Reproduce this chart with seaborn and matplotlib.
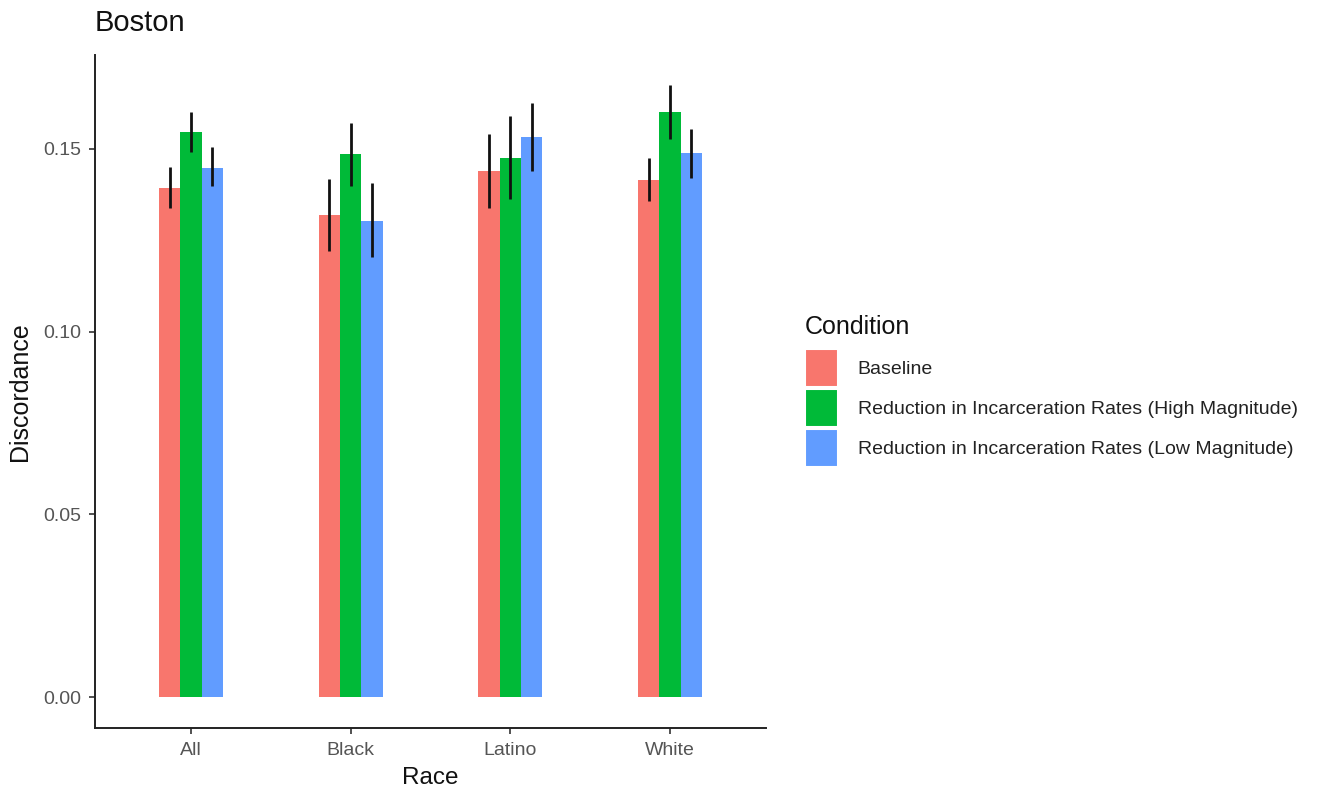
import matplotlib
matplotlib.use("Agg")
import matplotlib.pyplot as plt
import matplotlib.patches as mpatches
import numpy as np
import pandas as pd
import seaborn as sns

# Discordance by race under each condition (Boston)
races = ["All", "Black", "Latino", "White"]
conditions = [
    "Baseline",
    "Reduction in Incarceration Rates (High Magnitude)",
    "Reduction in Incarceration Rates (Low Magnitude)",
]
baseline = [0.1392, 0.1318, 0.1439, 0.1415]
baseline_lo = [0.1338, 0.1220, 0.1338, 0.1358]
baseline_hi = [0.1451, 0.1417, 0.1540, 0.1474]
high_mag = [0.1546, 0.1485, 0.1474, 0.1601]
high_mag_lo = [0.1492, 0.1397, 0.1363, 0.1527]
high_mag_hi = [0.1601, 0.1569, 0.1589, 0.1674]
low_mag = [0.1448, 0.1303, 0.1533, 0.1487]
low_mag_lo = [0.1397, 0.1203, 0.1438, 0.1419]
low_mag_hi = [0.1504, 0.1406, 0.1626, 0.1553]
colors = ["#F8766D", "#00BA38", "#619CFF"]

series = [
    (baseline, baseline_lo, baseline_hi),
    (high_mag, high_mag_lo, high_mag_hi),
    (low_mag, low_mag_lo, low_mag_hi),
]
rows = []
for cond, (vals, lo, hi) in zip(conditions, series):
    for r, v, l, h in zip(races, vals, lo, hi):
        rows.append({"Race": r, "Condition": cond, "Discordance": v, "lo": l, "hi": h})
df = pd.DataFrame(rows)

sns.set_theme(style="ticks")
plt.rcParams["font.family"] = ["Liberation Sans", "DejaVu Sans"]

fig = plt.figure(figsize=(13.38, 7.95), dpi=100)
ax = fig.add_axes([0.0710, 0.0843, 0.5015, 0.8465])

sns.barplot(data=df, x="Race", y="Discordance", hue="Condition",
            order=races, hue_order=conditions, palette=colors,
            width=0.4, errorbar=None, linewidth=0, saturation=1,
            legend=False, ax=ax)

# Error bars centred on each drawn bar
for ci, cond in enumerate(conditions):
    container = ax.containers[ci]
    sub = df[df["Condition"] == cond].set_index("Race").loc[races]
    for patch, (_, row) in zip(container.patches, sub.iterrows()):
        xc = patch.get_x() + patch.get_width() / 2
        ax.plot([xc, xc], [row["lo"], row["hi"]], color="#111111", lw=2,
                solid_capstyle="butt", zorder=5)

ax.set_xlim(-0.6, 3.6)
ax.set_ylim(-0.0084, 0.1756)
ax.set_yticks([0.0, 0.05, 0.10, 0.15])
ax.set_yticklabels(["0.00", "0.05", "0.10", "0.15"])
sns.despine(ax=ax)
for s in ["left", "bottom"]:
    ax.spines[s].set_color("#222222")
    ax.spines[s].set_linewidth(1.4)
ax.tick_params(axis="both", colors="#333333", labelcolor="#555555",
               labelsize=14, length=4, width=1.2)
ax.tick_params(axis="x", pad=6)
ax.tick_params(axis="y", pad=6)

ax.set_xlabel("Race", fontsize=17.5, color="#111111", labelpad=6)
ax.set_ylabel("Discordance", fontsize=18, color="#111111", labelpad=8)
ax.set_title("Boston", loc="left", fontsize=21, color="#111111", pad=17)

handles = [mpatches.Patch(facecolor=c, edgecolor="white", linewidth=1.5)
           for c in colors]
leg = fig.legend(handles, conditions, title="Condition",
                 loc="upper left", bbox_to_anchor=(0.596, 0.613),
                 frameon=False, fontsize=14, title_fontsize=18,
                 handlelength=1.7, handleheight=2.64, labelspacing=0.1,
                 handletextpad=1.0, alignment="left", borderaxespad=0)
leg._legend_box.sep = 7
for t in leg.get_texts():
    t.set_color("#222222")
leg.get_title().set_color("#111111")

fig.savefig("out.png", dpi=100)
